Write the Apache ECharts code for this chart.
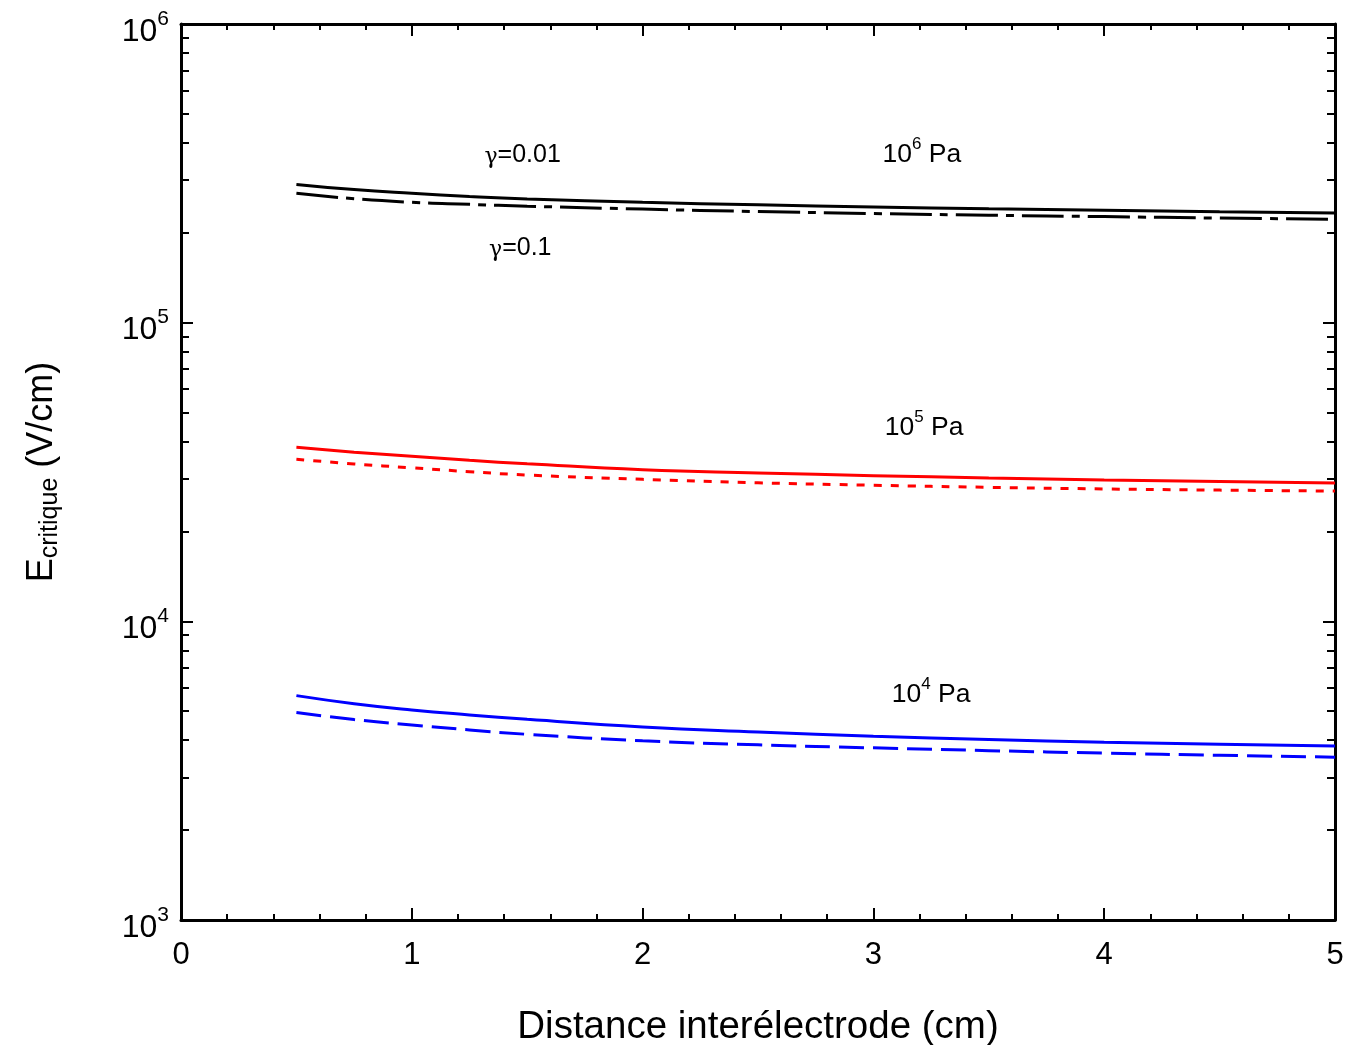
<!DOCTYPE html>
<html><head><meta charset="utf-8">
<script src="https://cdn.jsdelivr.net/npm/echarts@6/dist/echarts.min.js"></script>
<style>html,body{margin:0;padding:0;background:#fff}#c{width:1365px;height:1045px}</style>
</head><body><div id="c"></div>
<script>
// distance (cm)
var distance = [0.5, 0.75, 1, 1.25, 1.5, 2, 2.5, 3, 3.5, 4, 4.5, 5];
// E critique (V/cm)
var e1e6_g001 = [290400, 279000, 271000, 264500, 259600, 252900, 248000, 244000, 240500, 237800, 235300, 233000];
var e1e6_g01  = [271000, 260000, 253000, 249000, 245500, 240000, 235500, 232000, 229000, 226500, 224000, 222000];
var e1e5_g001 = [38240, 36850, 35700, 34600, 33700, 32200, 31400, 30750, 30200, 29750, 29400, 29050];
var e1e5_g01  = [34900, 33650, 32660, 31700, 30900, 29880, 29100, 28550, 28100, 27750, 27500, 27300];
var e1e4_g001 = [5640, 5300, 5050, 4860, 4700, 4430, 4260, 4120, 4020, 3940, 3880, 3824];
var e1e4_g01  = [4955, 4690, 4500, 4330, 4185, 3982, 3860, 3770, 3690, 3620, 3560, 3510];
// tick labels / annotations
var xTickLabels = ['0', '1', '2', '3', '4', '5'];
var annotations = [
  {x: 1.48, y: 364000, text: '{g|γ}{t|=0.01}'},
  {x: 1.47, y: 178000, text: '{g|γ}{t|=0.1}'},
  {x: 3.21, y: 379000, text: '{b|10}{s|6}{b| Pa}'},
  {x: 3.22, y: 46100,  text: '{b|10}{s|5}{b| Pa}'},
  {x: 3.25, y: 5890,   text: '{b|10}{s|4}{b| Pa}'}
];

function pairs(ys){ return distance.map(function(x,i){ return [x, ys[i]]; }); }
var minorVals = [];
for (var d = 3; d < 6; d++) for (var k = 2; k <= 9; k++) minorVals.push(d + Math.log10(k));

var FONT = 'Liberation Sans, Arial, sans-serif';
var chart = echarts.init(document.getElementById('c'), null, {renderer: 'canvas'});

function xAx(pos, labels){
  return {
    type: 'value', gridIndex: 0, min: 0, max: 5, interval: 1, position: pos,
    axisLine: {show: true, onZero: false, lineStyle: {color: '#000', width: 3}},
    axisTick: {show: true, inside: true, length: 12, lineStyle: {color: '#000', width: 2}},
    minorTick: {show: true, splitNumber: 5, length: 6, lineStyle: {color: '#000', width: 2}},
    splitLine: {show: false},
    axisLabel: {show: labels, fontFamily: FONT, fontSize: 31, color: '#000', margin: 20,
      formatter: function(v){ return xTickLabels[Math.round(v)]; }},
    name: labels ? 'Distance interélectrode (cm)' : '',
    nameLocation: 'middle', nameGap: 88,
    nameTextStyle: {fontFamily: FONT, fontSize: 38.5, color: '#000'}
  };
}
function yLog(pos, labels){
  return {
    type: 'log', gridIndex: 0, logBase: 10, min: 1000, max: 1000000, position: pos,
    axisLine: {show: true, onZero: false, lineStyle: {color: '#000', width: 3}},
    axisTick: {show: true, inside: true, length: 12, lineStyle: {color: '#000', width: 2}},
    splitLine: {show: false},
    axisLabel: {show: labels, margin: 12,
      formatter: function(v){ var e = Math.round(Math.log10(v)); return '{b|10}{s|' + e + '}'; },
      rich: {
        b: {fontFamily: FONT, fontSize: 32, color: '#000', padding: [16, 0, 0, 0]},
        s: {fontFamily: FONT, fontSize: 21, color: '#000', padding: [0, 0, 10, 0]}
      }},
    name: labels ? '{e|E}{c|critique}{u| (V/cm)}' : '',
    nameLocation: 'middle', nameGap: 118, nameRotate: 90,
    nameTextStyle: {rich: {
      e: {fontFamily: FONT, fontSize: 36, color: '#000'},
      c: {fontFamily: FONT, fontSize: 25, color: '#000', padding: [16, 0, 0, 0]},
      u: {fontFamily: FONT, fontSize: 36, color: '#000'}
    }}
  };
}
function yMinor(pos){
  return {
    type: 'value', gridIndex: 1, min: 3, max: 6, position: pos,
    axisLine: {show: false},
    axisTick: {show: true, inside: true, length: 8, customValues: minorVals, lineStyle: {color: '#000', width: 2}},
    splitLine: {show: false},
    axisLabel: {show: false}
  };
}
function line(ys, color, dash){
  return {
    type: 'line', xAxisIndex: 0, yAxisIndex: 0, data: pairs(ys), smooth: 0.5,
    showSymbol: false, symbol: 'none', silent: true,
    lineStyle: {color: color, width: 3, type: dash || 'solid'}
  };
}

var gridRect = {left: 181, right: 30, top: 24, bottom: 125, containLabel: false, outerBoundsMode: 'none'};
chart.setOption({
  animation: false,
  backgroundColor: '#fff',
  grid: [Object.assign({}, gridRect), Object.assign({}, gridRect)],
  xAxis: [xAx('bottom', true), xAx('top', false),
    {type: 'value', gridIndex: 1, min: 0, max: 5, show: false}],
  yAxis: [yLog('left', true), yLog('right', false), yMinor('left'), yMinor('right')],
  series: [
    line(e1e6_g001, '#000'),
    line(e1e6_g01, '#000', [42, 8, 8, 8]),
    line(e1e5_g001, '#ff0000'),
    line(e1e5_g01, '#ff0000', [8, 9]),
    line(e1e4_g001, '#0000ff'),
    line(e1e4_g01, '#0000ff', [25, 9])
  ]
});

var rich = {
  g: {fontFamily: 'DejaVu Serif, serif', fontSize: 22, color: '#000', padding: [4, 0, 0, 0]},
  t: {fontFamily: FONT, fontSize: 25, color: '#000'},
  b: {fontFamily: FONT, fontSize: 26.5, color: '#000', padding: [9, 0, 0, 0]},
  s: {fontFamily: FONT, fontSize: 17, color: '#000', padding: [0, 0, 11, 0]}
};
chart.setOption({
  graphic: annotations.map(function(a){
    var p = chart.convertToPixel({xAxisIndex: 0, yAxisIndex: 0}, [a.x, a.y]);
    return {type: 'text', x: p[0], y: p[1], silent: true,
      style: {text: a.text, rich: rich, align: 'center', verticalAlign: 'middle'}};
  })
});
</script></body></html>
